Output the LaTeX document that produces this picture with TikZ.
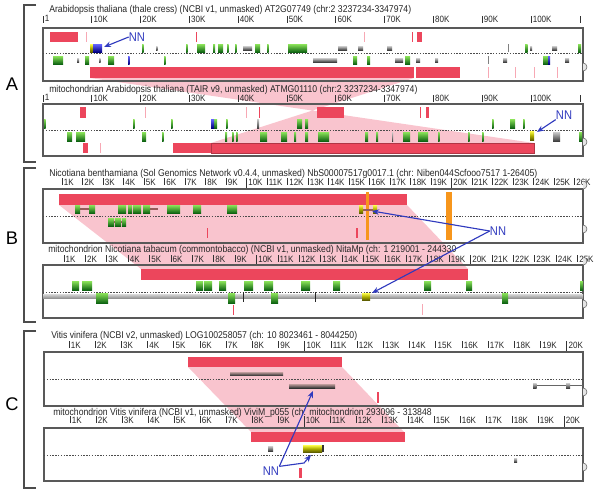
\documentclass[tikz,border=0pt]{standalone}
\usepackage{fontspec}
\newfontfamily\browserfont[FakeStretch=0.88]{Liberation Sans}
\newfontfamily\panelfont{Liberation Sans}
\usetikzlibrary{arrows.meta,positioning}

\definecolor{hitred}{RGB}{236,70,92}
\definecolor{hitpink}{RGB}{247,168,180}
\definecolor{ribbonpink}{RGB}{249,196,206}
\definecolor{genetop}{RGB}{140,228,90}
\definecolor{genebot}{RGB}{14,100,18}
\definecolor{nnblue}{RGB}{48,58,190}
\definecolor{hitorange}{RGB}{247,150,28}
\definecolor{intron}{RGB}{150,90,90}

\tikzset{
  boxframe/.style={draw=black!65, line width=1.1pt},
  bracket/.style={draw=black!70, line width=0.9pt},
  midline/.style={draw=black!70, line width=0.4pt, dash pattern=on 1pt off 1pt},
  title/.style={anchor=base west, inner sep=0pt, text=black!85,
    font=\browserfont\fontsize{7}{8}\selectfont},
  ticklab/.style={anchor=base west, inner sep=0pt, text=black!85,
    font=\browserfont\fontsize{6.5}{7}\selectfont},
  tickmark/.style={draw=black!80, line width=0.5pt},
  hit/.style={fill=hitred},
  faint/.style={fill=hitpink},
  ribbon/.style={fill=ribbonpink},
  gene/.style={top color=genetop, bottom color=genebot},
  ncgene/.style={top color=black!20, bottom color=black!75},
  nngene/.style={top color=yellow!70!white, bottom color=olive!75!black},
  blugene/.style={top color=blue!60!white, bottom color=blue!50!black},
  pointer/.style={draw=nnblue, line width=0.8pt, -{Stealth[length=5pt,width=4pt]}},
  nnlab/.style={text=nnblue, inner sep=0pt, font=\browserfont\fontsize{9}{9}\selectfont},
  panel/.style={inner sep=0pt, font=\panelfont\fontsize{13}{13}\selectfont}
}

\begin{document}
\begin{tikzpicture}[x=0.025cm, y=-0.025cm]
  \useasboundingbox (0,0) rectangle (600,494);
  \def\genes#1#2#3#4{\foreach \a/\b in {#4} \shade[#1] (\a,#2) rectangle (\b,#3);}

  % alignment ribbons
  \fill[ribbon] (90,78) -- (414,78) -- (211,143) -- (534,143) -- cycle;
  \fill[ribbon] (59,205) -- (407,205) -- (468,269) -- (141,269) -- cycle;
  \fill[ribbon] (188,367) -- (342,367) -- (404,432) -- (251,432) -- cycle;

  % panel brackets
  \draw[bracket] (36,5) -- (24,5) -- (24,162) -- (36,162);
  \draw[bracket] (36,168) -- (24,168) -- (24,322) -- (36,322);
  \draw[bracket] (36,331) -- (24,331) -- (24,488) -- (36,488);
  \node[panel] (pA) at (12,84) {A};
  \node[panel] (pB) at (12,238) {B};
  \node[panel] (pC) at (12,404) {C};

  % ---------------- A ----------------
  \node[title] (tiA1) at (49,12)
    {Arabidopsis thaliana (thale cress) (NCBI v1, unmasked) AT2G07749 (chr:2 3237234-3347974)};
  \node[title] (tiA2) at (49,92)
    {mitochondrian Arabidopsis thaliana (TAIR v9, unmasked) ATMG01110 (chr:2 3237234-3347974)};
  \foreach \y [count=\i] in {22,101}{
    \draw[tickmark] (43,\y-6) -- ++(0,7);
    \node[ticklab] (oA\i) at (44.5,\y-1) {1};
    \foreach \k in {1,...,10}{
      \draw[tickmark] (43+48.8*\k,\y-6) -- ++(0,7);
      \node[ticklab] (lA\i\k) at (44.5+48.8*\k,\y) {\k0K};
    }
    \draw[tickmark] (580,\y-6) -- ++(0,7);
  }
  \draw[boxframe] (583,28) -- (43,28) -- (43,81) -- (583,81) -- cycle;
  \draw[boxframe] (583,104) -- (43,104) -- (43,156) -- (583,156) -- cycle;
  \draw[midline] (43,53) -- (583,53);
  \draw[midline] (43,130) -- (583,130);

  \fill[hit] (50,32) rectangle (78,42);
  \fill[faint] (85.5,32) rectangle (87,42);
  \fill[hit] (195.5,32) rectangle (197,42);
  \fill[faint] (363.5,32) rectangle (365,42);
  \fill[hit] (411.5,32) rectangle (413,42);
  \fill[hit] (417,32) rectangle (422,42);
  \fill[hit] (90,67) rectangle (414,78);
  \fill[hit] (415.5,67) rectangle (460,78);
  \foreach \x in {488,515,534,557} \fill[faint] (\x,67) rectangle (\x+1.2,78);

  \genes{gene}{44}{52}{142/143.5,186/187.5,197/205,213/215,218/223,227/228.5,235/236.5,255/260,267/268.5,288/307,525/527.5,578/581}
  \genes{ncgene}{46}{50}{156/157.5,243/252,338/347,358/363,387/392,530/532,552/557}
  \draw[black!50] (508.5,44) -- (508.5,52);
  \genes{nngene}{44}{52}{90/93}
  \genes{blugene}{44}{52}{93/102}
  \genes{gene}{56}{64}{53/63,85/89,108/114,164/165.5,353/357,367/370,405/410,543/548}
  \genes{ncgene}{58}{62}{77/79,99/100.5,313/337,395/403,416/420,435/438,503/507,565/569}
  \genes{blugene}{56}{64}{128/129.5,548/550}
  \draw[black!50] (488.5,56) -- (488.5,64);

  \fill[hit] (80,107) rectangle (86,118);
  \fill[faint] (144.5,107) rectangle (146,118);
  \fill[faint] (245.5,107) rectangle (247,118);
  \fill[hit] (258.5,107) rectangle (260,118);
  \fill[hit] (317,107) rectangle (344,118);
  \fill[hit] (419.5,107) rectangle (421,118);
  \fill[hit] (426,107) rectangle (429,118);
  \fill[hit] (83,143) rectangle (88,153);
  \fill[faint] (99.5,143) rectangle (101,153);
  \fill[hit] (173,143) rectangle (534,153);
  \draw[hitred!75!black, line width=0.3pt] (211,143) rectangle (534,153);

  \genes{gene}{119}{128}{44/45.5,133/134.5,171/172.5,214/217,226/227.5,297/302,305/308,492/493.5,510/515,523/524.5}
  \genes{blugene}{119}{128}{211/214}
  \genes{ncgene}{119}{128}{257/259}
  \genes{gene}{132}{141}{67/72,76/85,142/146,162/163.5,225/227,232/233.5,236/237.5,260/267,281/287,294/296,305/308,318/329,365/368,376/378,403/410,418/428,438/439.5,468/469.5,482/483.5,579/582}
  \genes{ncgene}{132}{141}{392/393,553/560}
  \genes{nngene}{131}{140}{530/534}

  \foreach \y in {75,150} \draw[black!60, fill=black!10] (583,\y-4) arc[start angle=90, end angle=-90, radius=4];

  \coordinate (tA1) at (104,47);
  \coordinate (tA2) at (537,132);
  \node[nnlab] (nnA1) at (137,37) {NN};
  \node[nnlab] (nnA2) at (564,115) {NN};
  \draw[pointer] (nnA1.west) -- (tA1);
  \draw[pointer] (nnA2.south west) -- (tA2);

  % ---------------- B ----------------
  \node[title] (tiB1) at (49,176)
    {Nicotiana benthamiana (Sol Genomics Network v0.4.4, unmasked) NbS00007517g0017.1 (chr: Niben044Scfooo7517 1-26405)};
  \node[title] (tiB2) at (48,252)
    {mitochondrion Nicotiana tabacum (commontobacco) (NCBI v1, unmasked) NitaMp (ch: 1 219001 - 244330};
  \foreach \k in {1,...,26}{
    \draw[tickmark] (41.5+20.5*\k,178) -- ++(0,7);
    \node[ticklab] (lB1\k) at (43+20.5*\k,185) {\k K};
  }
  \foreach \k in {1,...,25}{
    \draw[tickmark] (42.6+21.4*\k,255) -- ++(0,7);
    \node[ticklab] (lB2\k) at (44+21.4*\k,262) {\k K};
  }
  \draw[tickmark] (246.5,178) -- (246.5,189);
  \draw[tickmark] (451.5,178) -- (451.5,189);
  \draw[tickmark] (256.6,255) -- (256.6,265);
  \draw[tickmark] (470.6,255) -- (470.6,265);
  \draw[boxframe] (583,189) -- (43,189) -- (43,243) -- (583,243) -- cycle;
  \draw[boxframe] (583,265) -- (43,265) -- (43,318) -- (583,318) -- cycle;
  \draw[midline] (43,216) -- (583,216);
  \draw[midline] (43,292) -- (583,292);

  \fill[hit] (59,194) rectangle (407,205);
  \fill[hitorange] (446,192) rectangle (452,240);
  \fill[hitorange] (366,192) rectangle (369,240);
  \fill[hit] (206.5,228) rectangle (208,238);
  \fill[hit] (356,228) rectangle (357.5,238);
  \fill[intron] (80,208) rectangle (89,210);
  \fill[intron] (150,208) rectangle (158,210);
  \fill[intron] (114,220.5) rectangle (122,222.5);
  \genes{gene}{205}{213}{75/80,89/95,118/126,128/132,133/141,143/150,167/180,193/201,227/237}
  \genes{gene}{218}{226}{108/114,115/121,122/126}
  \fill[intron] (362,208.5) rectangle (374,210.5);
  \genes{nngene}{205}{213}{359/363,373/377}

  \fill[hit] (141,269) rectangle (468,280);
  \fill[hit] (232.5,305) rectangle (234,315);
  \fill[faint] (421.5,304) rectangle (423,315);
  \shade[top color=black!15, bottom color=black!45] (43,294) rectangle (583,298.5);
  \draw[black!85, line width=0.6pt] (243,292) -- (243,302) (315,292) -- (315,302);
  \genes{gene}{281}{290}{72/79,82/92,196/203,204/212,219/226,244/253,264/273,301/310,333/340,424/431,466/472,580/583}
  \genes{gene}{293}{303}{96/108,228/235,271/278,502/508}
  \genes{nngene}{293}{300}{362/370}

  \foreach \y in {13,89} \draw[black!60, fill=black!10] (583,176+\y) arc[start angle=90, end angle=-90, radius=4];
  \foreach \y in {237,312} \draw[black!60, fill=black!10] (583,\y-4) arc[start angle=90, end angle=-90, radius=4];

  \coordinate (tB1) at (372,211);
  \coordinate (tB2) at (372,293);
  \node[nnlab] (nnB) at (498,231) {NN};
  \draw[pointer] (nnB.west) -- (tB1);
  \draw[pointer] (nnB.west) -- (tB2);

  % ---------------- C ----------------
  \node[title] (tiC1) at (51,338)
    {Vitis vinifera (NCBI v2, unmasked) LOG100258057 (ch: 10 8023461 - 8044250)};
  \node[title] (tiC2) at (53,415)
    {mitochondrion Vitis vinifera (NCBI v1, unmasked) ViviM\_p055 (ch: mitochondrion 293096 - 313848};
  \foreach \k in {1,...,20}{
    \draw[tickmark] (42.8+26.2*\k,341) -- ++(0,7);
    \node[ticklab] (lC1\k) at (44.3+26.2*\k,348) {\k K};
    \draw[tickmark] (44+26*\k,416) -- ++(0,7);
    \node[ticklab] (lC2\k) at (45.5+26*\k,423) {\k K};
  }
  \draw[tickmark] (304.8,341) -- (304.8,352);
  \draw[tickmark] (566.8,341) -- (566.8,352);
  \draw[tickmark] (304,416) -- (304,428);
  \draw[tickmark] (564,416) -- (564,428);
  \draw[boxframe] (583,352) -- (44,352) -- (44,406) -- (583,406) -- cycle;
  \draw[boxframe] (583,428) -- (44,428) -- (44,481) -- (583,481) -- cycle;
  \draw[midline] (44,379) -- (583,379);
  \draw[midline] (44,455) -- (583,455);

  \fill[hit] (188,357) rectangle (342,367);
  \fill[hit] (377,392) rectangle (379,403);
  \shade[top color=intron!60, bottom color=black!80] (230,372) rectangle (283,375.5);
  \shade[top color=intron!60, bottom color=black!80] (289,384) rectangle (335,388);
  \draw[black!60, line width=0.3pt] (536,385.5) -- (583,385.5);
  \genes{ncgene}{383}{388}{533/536.5,566/570}

  \fill[hit] (251,432) rectangle (405,442);
  \fill[hit] (299,468) rectangle (301.5,478);
  \genes{nngene}{445}{452}{303/322}
  \fill[black!80] (322,445) rectangle (323.5,452);
  \genes{ncgene}{446}{451}{268/273}
  \genes{ncgene}{458}{462}{514/517}

  \foreach \y in {400,475} \draw[black!60, fill=black!10] (583,\y-4) arc[start angle=90, end angle=-90, radius=4];

  \coordinate (tC1) at (313,391);
  \coordinate (tC2) at (311,455);
  \coordinate (kC) at (304,463);
  \node[nnlab] (nnC) at (271,471) {NN};
  \draw[pointer] (nnC.north east) -- (tC1);
  \draw[pointer] (nnC.north east) -- (kC) -- (tC2);
\end{tikzpicture}
\end{document}
